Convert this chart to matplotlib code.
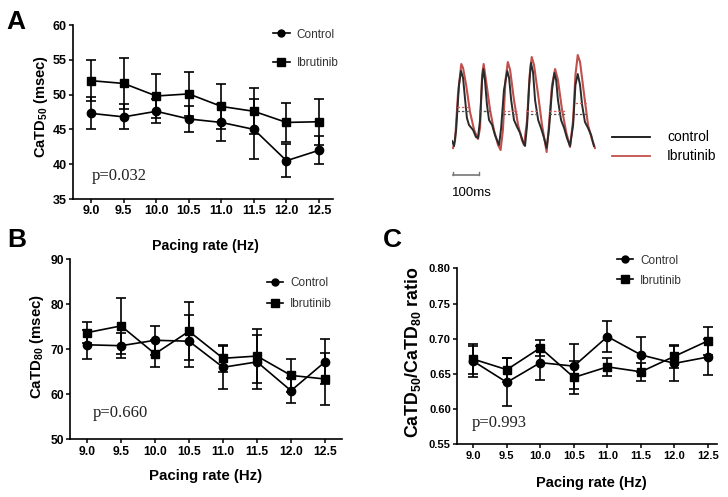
import matplotlib
matplotlib.use('Agg')
import matplotlib.pyplot as plt
from matplotlib.lines import Line2D

plt.rcParams['font.family'] = ['Liberation Sans', 'DejaVu Sans']
plt.rcParams['mathtext.fontset'] = 'custom'
plt.rcParams['mathtext.rm'] = 'Liberation Sans'
plt.rcParams['mathtext.bf'] = 'Liberation Sans:bold'

# pacing rates (Hz)
rate = [9.0, 9.5, 10.0, 10.5, 11.0, 11.5, 12.0, 12.5]
rate_labels = ['9.0', '9.5', '10.0', '10.5', '11.0', '11.5', '12.0', '12.5']

# A: CaTD50 (msec), mean and error
catd50_ctrl = [47.3, 46.8, 47.6, 46.5, 46.0, 45.0, 40.5, 42.0]
catd50_ctrl_err = [2.3, 1.8, 1.7, 1.9, 2.7, 4.3, 2.4, 2.0]
catd50_ibr = [52.0, 51.6, 49.8, 50.1, 48.3, 47.6, 46.0, 46.1]
catd50_ibr_err = [2.9, 3.6, 3.2, 3.2, 3.2, 3.3, 2.8, 3.3]

# B: CaTD80 (msec)
catd80_ctrl = [71.0, 70.8, 72.0, 71.8, 66.0, 67.2, 60.8, 67.2]
catd80_ctrl_err = [3.2, 2.8, 3.2, 5.8, 4.8, 6.0, 2.8, 5.0]
catd80_ibr = [73.7, 75.2, 69.0, 74.0, 68.0, 68.5, 64.2, 63.4]
catd80_ibr_err = [2.3, 6.2, 3.0, 6.4, 3.0, 6.0, 3.6, 5.7]

# C: CaTD50/CaTD80 ratio
ratio_ctrl = [0.668, 0.638, 0.666, 0.661, 0.703, 0.677, 0.665, 0.674]
ratio_ctrl_err = [0.022, 0.034, 0.024, 0.032, 0.022, 0.025, 0.025, 0.026]
ratio_ibr = [0.671, 0.656, 0.687, 0.645, 0.660, 0.653, 0.675, 0.697]
ratio_ibr_err = [0.021, 0.017, 0.011, 0.023, 0.013, 0.013, 0.016, 0.020]

# representative Ca transients (time in ms, amplitude a.u.)
ctrl_t = [0, 8, 16, 27, 35, 43, 51, 58, 66, 82, 93, 101, 109, 117, 122, 128, 136, 144,
          156, 167, 183, 191, 202, 215, 222, 230, 241, 253, 265, 276, 284, 292, 300, 307,
          315, 323, 335, 346, 358, 368, 377, 389, 398, 405, 412, 424, 436, 447, 459, 471,
          480, 489, 498, 506, 517, 529, 541, 552]
ctrl_amp = [14, 9, 25, 70, 84, 77, 55, 37, 30, 25, 18, 17, 35, 75, 86, 75, 50, 35,
            30, 20, 10, 27, 65, 84, 77, 55, 35, 28, 22, 13, 9, 30, 70, 92,
            83, 55, 35, 27, 17, 7, 25, 65, 82, 75, 55, 35, 27, 17, 9, 30,
            70, 81, 70, 50, 33, 27, 20, 9]
ibr_t = [4, 12, 23, 36, 43, 55, 70, 86, 101, 109, 117, 123, 132, 148, 163, 179, 189,
         198, 208, 217, 226, 241, 257, 272, 280, 292, 302, 310, 319, 335, 350, 368, 377,
         389, 401, 412, 428, 444, 459, 471, 480, 489, 498, 514, 529, 545, 556]
ibr_amp = [7, 15, 60, 91, 87, 70, 43, 25, 16, 27, 80, 91, 75, 45, 25, 10, 5,
           25, 75, 93, 85, 55, 30, 15, 10, 35, 80, 98, 90, 60, 30, 3, 30,
           70, 86, 75, 45, 23, 8, 35, 80, 100, 93, 60, 30, 15, 7]
# 50% duration markers per beat
half_start = [18, 106, 197, 288, 379, 478]
half_end = [70, 150, 254, 336, 440, 524]
half_ibr = [48, 44, 44, 44, 44, 52]
half_ctrl = [44, 44, 41, 41, 41, 41]

W, H = 728, 497
fig = plt.figure(figsize=(W / 100, H / 100), dpi=100)


def box(l, t, r, b):
    return [l / W, 1 - b / H, (r - l) / W, (b - t) / H]


def panel(rect, xlim, ylim, yticks, ctrl, ctrl_err, ibr, ibr_err, ylabel, ylab_xy,
          ylab_size, xlab_xy, xlab_size, tick_size, ptext, p_xy, leg_xy, leg_space):
    ax = fig.add_axes(rect)
    ax.errorbar(rate, ctrl, yerr=ctrl_err, color='black', marker='o', ms=6, lw=1.2,
                elinewidth=1.2, capsize=3.5, capthick=1.2)
    ax.errorbar(rate, ibr, yerr=ibr_err, color='black', marker='s', ms=6.3, lw=1.2,
                elinewidth=1.2, capsize=3.5, capthick=1.2)
    ax.set_xlim(*xlim)
    ax.set_ylim(*ylim)
    ax.set_xticks(rate)
    ax.set_xticklabels(rate_labels)
    ax.set_yticks(yticks)
    for s in ['top', 'right']:
        ax.spines[s].set_visible(False)
    for s in ['left', 'bottom']:
        ax.spines[s].set_linewidth(1.2)
    ax.tick_params(direction='out', length=3, width=1.1, labelsize=tick_size, pad=1.5)
    for lab in ax.get_xticklabels() + ax.get_yticklabels():
        lab.set_fontweight('bold')
    ax.set_ylabel(ylabel, fontsize=ylab_size, fontweight='bold')
    ax.yaxis.set_label_coords(*ylab_xy)
    ax.set_xlabel('Pacing rate (Hz)', fontsize=xlab_size, fontweight='bold')
    ax.xaxis.set_label_coords(*xlab_xy)
    ax.text(p_xy[0], p_xy[1], ptext, transform=ax.transAxes, fontsize=12,
            family='Liberation Serif', va='center', ha='left', color='#222222')
    handles = [Line2D([], [], color='black', marker='o', ms=5, lw=1.2),
               Line2D([], [], color='black', marker='s', ms=5.5, lw=1.2)]
    leg = ax.legend(handles, ['Control', 'Ibrutinib'], loc='upper left',
                    bbox_to_anchor=(leg_xy[0] / W, 1 - leg_xy[1] / H),
                    bbox_transform=fig.transFigure, frameon=False, fontsize=8.5,
                    handlelength=1.4, handletextpad=0.6, labelspacing=leg_space,
                    borderpad=0, borderaxespad=0)
    for t in leg.get_texts():
        t.set_color('#333333')
    return ax


panel(box(73, 25, 333, 199), (8.72, 12.715), (35, 60), [35, 40, 45, 50, 55, 60],
      catd50_ctrl, catd50_ctrl_err, catd50_ibr, catd50_ibr_err,
      r'CaTD$_{\mathbf{50}}$ (msec)', (-0.09, 0.53), 10.5, (0.51, -0.23), 10.2, 9,
      'p=0.032', (0.072, 0.134), (273, 28.5), 1.4)

panel(box(70, 259.3, 342, 439.3), (8.75, 12.75), (50, 90), [50, 60, 70, 80, 90],
      catd80_ctrl, catd80_ctrl_err, catd80_ibr, catd80_ibr_err,
      r'CaTD$_{\mathbf{80}}$ (msec)', (-0.09, 0.518), 10.8, (0.50, -0.165), 10.8, 8.7,
      'p=0.660', (0.085, 0.144), (266.7, 277.5), 0.72)

panel(box(457, 268.3, 717, 444.3), (8.757, 12.634), (0.55, 0.80),
      [0.55, 0.60, 0.65, 0.70, 0.75, 0.80],
      ratio_ctrl, ratio_ctrl_err, ratio_ibr, ratio_ibr_err,
      r'CaTD$_{\mathbf{50}}$/CaTD$_{\mathbf{80}}$ ratio', (-0.131, 0.524), 12.8,
      (0.518, -0.178), 10.5, 8,
      'p=0.993', (0.057, 0.123), (616.7, 254.5), 0.68)

# representative traces
axt = fig.add_axes(box(451.5, 53, 596, 157))
axt.plot(ibr_t, ibr_amp, color='#c0504d', lw=1.5)
axt.plot(ctrl_t, ctrl_amp, color='#2a2a2a', lw=1.4)
for s, e, hi, hc in zip(half_start, half_end, half_ibr, half_ctrl):
    axt.plot([s, e], [hi, hi], color='#d06060', lw=0.9, ls=(0, (2, 1.5)))
    axt.plot([s, e], [hc, hc], color='#555555', lw=0.9, ls=(0, (2, 1.5)))
axt.set_xlim(-2, 560)
axt.set_ylim(-2, 102)
axt.axis('off')

# 100 ms scale bar
axt.plot([5, 105], [-20, -20], color='#777777', lw=1.2, clip_on=False)
axt.plot([5, 5], [-20, -17], color='#777777', lw=1.0, clip_on=False)
axt.plot([105, 105], [-20, -17], color='#777777', lw=1.0, clip_on=False)
axt.text(0, -38, '100ms', fontsize=9.5, va='center', ha='left', clip_on=False)

# trace legend
fig.add_artist(Line2D([612 / W, 650 / W], [1 - 137.3 / H, 1 - 137.3 / H],
                      color='#111111', lw=1.3))
fig.add_artist(Line2D([612 / W, 650 / W], [1 - 155.7 / H, 1 - 155.7 / H],
                      color='#c0504d', lw=1.3))
fig.text(667 / W, 1 - 137.3 / H, 'control', fontsize=10, va='center', ha='left')
fig.text(667 / W, 1 - 155.7 / H, 'Ibrutinib', fontsize=10, va='center', ha='left')

# panel letters
fig.text(16 / W, 1 - 22 / H, 'A', fontsize=19, fontweight='bold', ha='center', va='center')
fig.text(16.5 / W, 1 - 240 / H, 'B', fontsize=19, fontweight='bold', ha='center', va='center')
fig.text(392 / W, 1 - 240 / H, 'C', fontsize=19, fontweight='bold', ha='center', va='center')

fig.savefig('out.png', dpi=100)
